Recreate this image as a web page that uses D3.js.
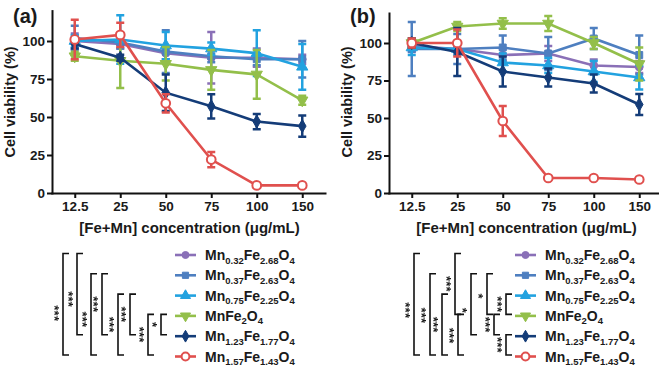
<!DOCTYPE html>
<html>
<head>
<meta charset="utf-8">
<script src="https://cdn.jsdelivr.net/npm/d3@7"></script>
<style>
  body { margin: 0; background: #fff; }
  svg text { font-family: "Liberation Sans", Arial, sans-serif; font-weight: bold; fill: #1a1a1a; }
</style>
</head>
<body>
<svg width="659" height="368"></svg>
<script>
// concentrations (x categories) and y ticks
var categories = ["12.5", "25", "50", "75", "100", "150"];
var yTicks = [0, 25, 50, 75, 100];

var seriesNames = ["Mn0.32Fe2.68O4", "Mn0.37Fe2.63O4", "Mn0.75Fe2.25O4",
                   "MnFe2O4", "Mn1.23Fe1.77O4", "Mn1.57Fe1.43O4"];

// panel (a): mean viability and error, one row per series
var meansA = [
  [100, 98, 92, 89, 89, 88],
  [102, 99, 93, 90, 88, 88],
  [100, 101, 97, 95, 92, 83],
  [90, 87, 85, 81, 78, 61],
  [98, 89, 66, 57, 47, 44],
  [101, 104, 59, 22, 5, 5]
];
var errorsA = [
  [5, 3, 4, 17, 6, 3],
  [8, 4, 14, 4, 4, 12],
  [4, 16, 9, 4, 15, 15],
  [3, 18, 11, 13, 16, 3],
  [3, 2, 12, 8, 5, 7],
  [13, 8, 6, 5, 1, 1]
];

// panel (b)
var meansB = [
  [98, 96, 92, 93, 85, 84],
  [96, 96, 97, 93, 103, 92],
  [97, 96, 87, 85, 81, 77],
  [100, 111, 113, 113, 100, 86],
  [100, 94, 81, 77, 73, 59],
  [100, 100, 48, 10, 10, 9]
];
var errorsB = [
  [4, 3, 4, 5, 4, 4],
  [18, 10, 8, 11, 7, 13],
  [5, 4, 6, 5, 7, 8],
  [3, 3, 3.5, 5, 4, 11],
  [3, 16, 10, 6, 6, 7],
  [3, 9, 10, 1, 1, 1]
];

// significance brackets: [x, fromRow, toRow, label, label shift]
var bracketsA = [
  [63, 0, 5, "***", 9], [77, 0, 4, "***", 5], [91, 1, 5, "***", 5], [102, 1, 4, "***", 0],
  [118, 2, 5, "***", 0], [130, 2, 4, "***", 0], [148, 3, 5, "***", 0], [161, 3, 4, "*", 0]
];
var bracketsB = [
  [414, 0, 5, "***", 6], [430, 1, 5, "***", 1], [442, 2, 5, "***", 0], [455, 0, 3, "***", 0],
  [458, 3, 5, "***", 1], [471, 1, 4, "*", 6], [487, 1, 3, "*", 2], [506, 2, 3, "***", 0],
  [494, 3, 4, "***", 0], [506, 4, 5, "***", 0]
];

var colors = ["#8a70b7", "#4e7fc0", "#22a2e0", "#93bf4a", "#143c78", "#e0504e"];
var symbols = [d3.symbolCircle, d3.symbolSquare, d3.symbolTriangle,
               d3.symbolTriangle, d3.symbolDiamond, d3.symbolCircle];
var symRot = [0, 0, 0, 180, 0, 0];
var symSize = [48, 48, 55, 55, 50, 60];

var svg = d3.select("svg");

// greyscale filter so the rotated stars keep no colour fringes
svg.append("defs").append("filter").attr("id", "grey")
  .append("feColorMatrix").attr("type", "saturate").attr("values", 0);

function rowY(i) { return 255 + 20.3 * i; }

function drawPanel(p) {
  var x = d3.scalePoint().domain(categories).range(p.xRange).padding(0.5);
  var y = d3.scaleLinear().domain([0, 120]).range([193, p.yTop]);
  var g = svg.append("g");

  var xa = g.append("g").attr("transform", "translate(0,193)")
    .call(d3.axisBottom(x).tickSize(5).tickSizeOuter(0).tickPadding(3));
  var ya = g.append("g").attr("transform", "translate(" + p.xRange[0] + ",0)")
    .call(d3.axisLeft(y).tickValues(yTicks).tickSize(5).tickSizeOuter(0).tickPadding(2));
  [xa, ya].forEach(function(a) {
    a.select(".domain").attr("stroke", "#111").attr("stroke-width", 2).attr("stroke-linecap", "square");
    a.selectAll(".tick line").attr("stroke", "#111").attr("stroke-width", 2);
    a.selectAll(".tick text").attr("font-size", "13.5px").attr("fill", "#1a1a1a");
  });

  g.append("text").attr("x", p.xRange[0] - 39).attr("y", 23)
    .attr("font-size", "20px").text(p.label);

  g.append("text")
    .attr("transform", "translate(" + (p.xRange[0] - 37) + ",102) rotate(-90)")
    .attr("text-anchor", "middle").attr("font-size", "14.5px")
    .text("Cell viability (%)");

  g.append("text").attr("x", (p.xRange[0] + p.xRange[1]) / 2 + 1).attr("y", 233)
    .attr("text-anchor", "middle").attr("font-size", "15px")
    .text("[Fe+Mn] concentration (\u03bcg/mL)");

  var line = d3.line().x(function(d) { return x(d.c); }).y(function(d) { return y(d.v); });

  seriesNames.forEach(function(name, i) {
    var col = colors[i];
    var pts = categories.map(function(c, j) {
      return { c: c, v: p.means[i][j], e: p.errors[i][j] };
    });
    var s = g.append("g");
    s.selectAll(".eb").data(pts).enter().append("path")
      .attr("d", function(d) {
        var cx = x(d.c), y1 = y(d.v + d.e), y2 = y(d.v - d.e);
        return "M" + (cx - 4) + "," + y1 + "H" + (cx + 4) + "M" + cx + "," + y1 +
               "V" + y2 + "M" + (cx - 4) + "," + y2 + "H" + (cx + 4);
      })
      .attr("fill", "none").attr("stroke", col).attr("stroke-width", 2.5);
    s.append("path").datum(pts).attr("d", line)
      .attr("fill", "none").attr("stroke", col).attr("stroke-width", 2.6);
    s.selectAll(".mk").data(pts).enter().append("path")
      .attr("d", d3.symbol().type(symbols[i]).size(symSize[i]))
      .attr("transform", function(d) {
        return "translate(" + x(d.c) + "," + y(d.v) + ") rotate(" + symRot[i] + ")";
      })
      .attr("fill", i === 5 ? "#fff" : col)
      .attr("stroke", col).attr("stroke-width", i === 5 ? 2 : 1);

    // legend row
    var ly = rowY(i), lx = p.legendX;
    g.append("line").attr("x1", lx).attr("x2", lx + 21).attr("y1", ly).attr("y2", ly)
      .attr("stroke", col).attr("stroke-width", 2.6);
    g.append("path").attr("d", d3.symbol().type(symbols[i]).size(symSize[i] * 0.8))
      .attr("transform", "translate(" + (lx + 10.5) + "," + ly + ") rotate(" + symRot[i] + ")")
      .attr("fill", i === 5 ? "#fff" : col).attr("stroke", col).attr("stroke-width", i === 5 ? 2 : 1);
    var t = g.append("text").attr("x", lx + 30).attr("y", ly + 5).attr("font-size", "14px");
    var parts = name.split(/(\d[\d.]*)/).filter(function(s) { return s !== ""; });
    var sub = false;
    parts.forEach(function(part) {
      var isNum = /^\d/.test(part);
      var ts = t.append("tspan").text(part);
      if (isNum) { ts.attr("font-size", "9.5px").attr("dy", sub ? 0 : 3.5); sub = true; }
      else { ts.attr("dy", sub ? -3.5 : 0); sub = false; }
    });
  });

  // significance brackets, star labels run vertically
  var sg = g.append("g").attr("filter", "url(#grey)");
  p.brackets.forEach(function(b) {
    var bx = b[0], y1 = rowY(b[1]) - 1.5, y2 = rowY(b[2]) - 1.5;
    g.append("path")
      .attr("d", "M" + (bx + 6) + "," + y1 + "H" + bx + "V" + y2 + "H" + (bx + 6))
      .attr("fill", "none").attr("stroke", "#111").attr("stroke-width", 1.6);
    var cy = (y1 + y2) / 2 + b[4];
    sg.append("text")
      .attr("transform", "translate(" + (bx - 13) + "," + cy + ") rotate(90)")
      .attr("text-anchor", "middle").attr("font-size", "13px").attr("letter-spacing", "0.2px")
      .attr("fill", "#000")
      .text(b[3]);
  });
}

drawPanel({ label: "(a)", xRange: [52, 325], yTop: 10.6, legendX: 175,
            means: meansA, errors: errorsA, brackets: bracketsA });
drawPanel({ label: "(b)", xRange: [389, 662], yTop: 13, legendX: 515,
            means: meansB, errors: errorsB, brackets: bracketsB });
</script>
</body>
</html>
